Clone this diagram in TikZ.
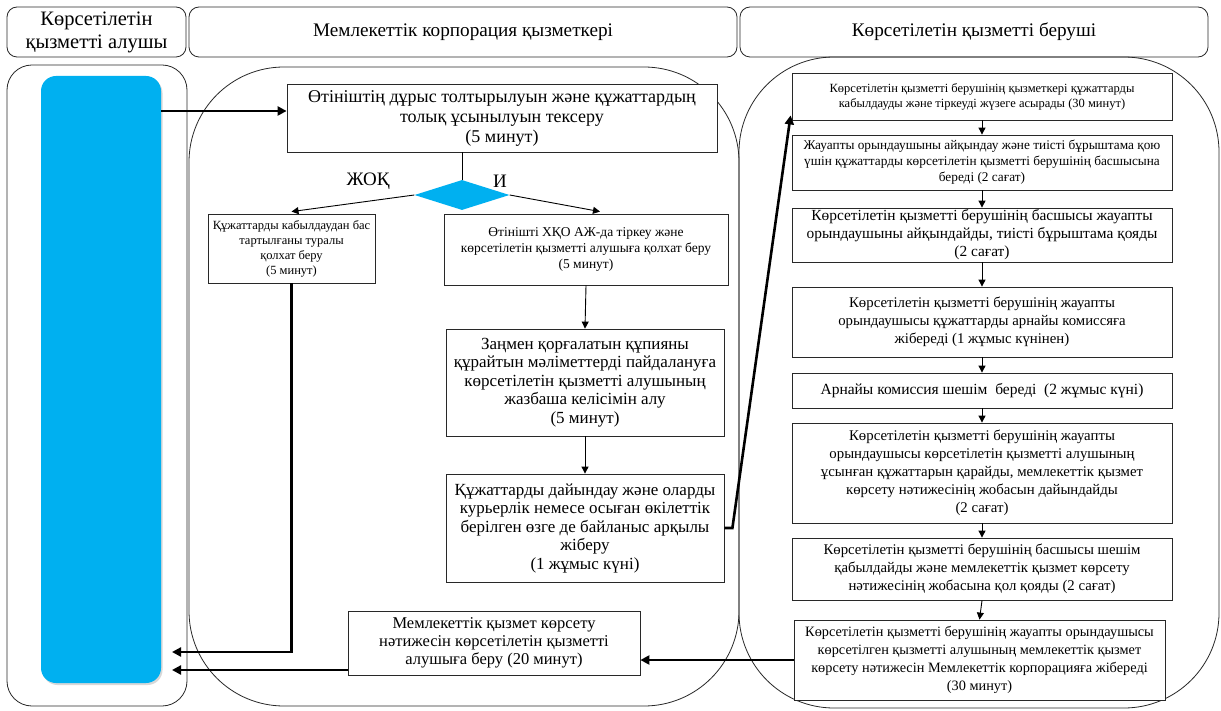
\documentclass[tikz,border=0pt]{standalone}
\usepackage{fontspec}
\setmainfont{Liberation Serif}
\newfontfamily\tnr{Liberation Serif}
\usetikzlibrary{arrows.meta,shapes.geometric,shadows,calc}
\definecolor{cyanblue}{RGB}{0,176,240}
\definecolor{edge}{RGB}{40,40,40}
\begin{document}
\begin{tikzpicture}[x=1pt,y=-1pt,
  hdr/.style={draw=edge, rounded corners=10pt, line width=0.8pt, align=center, inner sep=0pt, font=\tnr\fontsize{19.2}{22}\selectfont},
  lane/.style={draw=edge, line width=0.8pt, inner sep=0pt},
  box/.style={draw=edge, line width=0.8pt, fill=white, align=center, inner sep=1pt},
  fA/.style={font=\tnr\fontsize{18}{20}\selectfont},
  fB/.style={font=\tnr\fontsize{17}{18.5}\selectfont},
  fD/.style={font=\tnr\fontsize{13.5}{16}\selectfont},
  fE/.style={font=\tnr\fontsize{12.5}{15}\selectfont},
  fs/.style={font=\tnr\fontsize{#1}{18}\selectfont},
  tarrow/.style={draw=black, line width=0.9pt, -{Triangle[length=7pt,width=7pt]}},
  barrow/.style={draw=black, line width=2.6pt, -{Triangle[length=9pt,width=9pt]}},
]
\useasboundingbox (0,0) rectangle (1221,711);
\fill[white] (0,0) rectangle (1221,711);

% headers
\node[hdr, font=\tnr\fontsize{20.5}{23}\selectfont, minimum width=179pt, minimum height=50pt] (h1) at (96.5,32) {Көрсетілетін\\қызметті алушы};
\node[hdr, minimum width=548pt, minimum height=50pt] (h2) at (463,32) {Мемлекеттік корпорация қызметкері};
\node[hdr, minimum width=468pt, minimum height=50pt] (h3) at (974,32) {Көрсетілетін қызметті беруші};

% lanes
\node[lane, rounded corners=25pt, minimum width=180pt, minimum height=641pt] (l1) at (97,385.5) {};
\node[lane, rounded corners=95pt, minimum width=550pt, minimum height=639pt] (l2) at (464,386.5) {};
\node[lane, rounded corners=95pt, minimum width=480pt, minimum height=651pt] (l3) at (979,382.5) {};

% blue actor bar
\node[fill=cyanblue, rounded corners=15pt, minimum width=120pt, minimum height=607pt, inner sep=0pt,
      drop shadow={shadow xshift=1.5pt, shadow yshift=-2pt, fill=black!30, opacity=0.5}] (blue) at (101,379.5) {};

% middle lane
\node[box, fA, minimum width=430pt, minimum height=68pt] (b1) at (502,118)
  {Өтініштің дұрыс толтырылуын және құжаттардың\\толық ұсынылуын тексеру\\(5 минут)};
\node[diamond, fill=cyanblue, minimum width=95pt, minimum height=30pt, inner sep=0pt] (dia) at (462,195) {};
\node[font=\tnr\fontsize{19}{21}\selectfont] (no) at (368,181) {ЖОҚ};
\node[font=\tnr\fontsize{19}{21}\selectfont] (yes) at (500,181) {И};
\node[box, fE, minimum width=167pt, minimum height=69pt] (b2) at (291.5,248.5)
  {Құжаттарды кабылдаудан бас\\тартылғаны туралы\\қолхат беру\\(5 минут)};
\node[box, fD, minimum width=284pt, minimum height=71pt] (b3) at (586,249.5)
  {Өтінішті ХҚО АЖ-да тіркеу және\\көрсетілетін қызметті алушыға қолхат беру\\(5 минут)};
\node[box, fB, minimum width=278pt, minimum height=107pt] (b4) at (585,382.5)
  {Заңмен қорғалатын құпияны\\құрайтын мәліметтерді пайдалануға\\көрсетілетін қызметті алушының\\жазбаша келісімін алу\\(5 минут)};
\node[box, fB, minimum width=278pt, minimum height=108pt] (b5) at (585,528)
  {Құжаттарды дайындау және оларды\\курьерлік немесе осыған өкілеттік\\берілген өзге де байланыс арқылы\\жіберу\\(1 жұмыс күні)};
\node[box, fs=16.5, minimum width=292pt, minimum height=64pt] (res) at (494,643)
  {Мемлекеттік қызмет көрсету\\нәтижесін көрсетілетін қызметті\\алушыға беру (20 минут)};

% right lane
\node[box, fE, minimum width=380pt, minimum height=47pt] (r1) at (982,96.5)
  {Көрсетілетін қызметті берушінің қызметкері құжаттарды\\кабылдауды және тіркеуді жүзеге асырады (30 минут)};
\node[box, font=\tnr\fontsize{13.3}{16}\selectfont, minimum width=380pt, minimum height=55pt] (r2) at (982,162.5)
  {Жауапты орындаушыны айқындау және тиісті бұрыштама қою\\үшін құжаттарды көрсетілетін қызметті берушінің басшысына\\береді (2 сағат)};
\node[box, fs=15.4, minimum width=380pt, minimum height=54pt] (r3) at (982,235)
  {Көрсетілетін қызметті берушінің басшысы жауапты\\орындаушыны айқындайды, тиісті бұрыштама қояды\\(2 сағат)};
\node[box, fs=14.8, minimum width=380pt, minimum height=70pt] (r4) at (982,322)
  {Көрсетілетін қызметті берушінің жауапты\\орындаушысы құжаттарды арнайы комиссяға\\жібереді (1 жұмыс күнінен)};
\node[box, fs=15.5, minimum width=380pt, minimum height=35pt] (r5) at (982,390.5)
  {Арнайы комиссия шешім\ \ береді\ \ (2 жұмыс күні)};
\node[box, fs=14.8, minimum width=380pt, minimum height=100pt] (r6) at (982,473)
  {Көрсетілетін қызметті берушінің жауапты\\орындаушысы көрсетілетін қызметті алушының\\ұсынған құжаттарын қарайды, мемлекеттік қызмет\\көрсету нәтижесінің жобасын дайындайды\\(2 сағат)};
\node[box, fs=14.8, minimum width=380pt, minimum height=62pt] (r7) at (982,569)
  {Көрсетілетін қызметті берушінің басшысы шешім\\қабылдайды және мемлекеттік қызмет көрсету\\нәтижесінің жобасына қол қояды (2 сағат)};
\node[box, fs=14.3, minimum width=371pt, minimum height=80pt] (r8) at (979.5,660)
  {Көрсетілетін қызметті берушінің жауапты орындаушысы\\көрсетілген қызметті алушының мемлекеттік қызмет\\көрсету нәтижесін Мемлекеттік корпорацияға жібереді\\(30 минут)};

% connectors
\coordinate (a1) at (161,111);
\draw[barrow] (a1) -- (a1 -| b1.west);
\draw[line width=0.9pt] (b1.south -| dia.north) -- (dia.north);
\draw[tarrow] (dia.west) -- ($(b2.north)+(0,-2)$);
\draw[tarrow] (dia.east) -- ($(b3.north)+(14,-2)$);
\draw[tarrow] (b3.south) -- (b4.north);
\draw[tarrow] (b4.south) -- (b5.north);
\draw[barrow] (b5.east) -- ++(8,0) -- ($(r1.south west)+(-1,-5)$);
\draw[tarrow] (r1.south) -- (r2.north);
\draw[tarrow] (r2.south) -- (r3.north);
\draw[tarrow] (r3.south) -- (r4.north);
\draw[tarrow] (r4.south) -- (r5.north);
\draw[tarrow] (r5.south) -- (r6.north);
\draw[tarrow] (r6.south) -- (r7.north);
\draw[tarrow] (r7.south) -- (r8.north);
\draw[barrow] (r8.west) -- (r8.west -| res.east);
\coordinate (t1) at (172,670);
\draw[barrow] (t1 -| res.west) -- (t1);
\coordinate (t2) at (172,652);
\draw[barrow] (b2.south) -- (b2.south |- t2) -- (t2);
\end{tikzpicture}
\end{document}
